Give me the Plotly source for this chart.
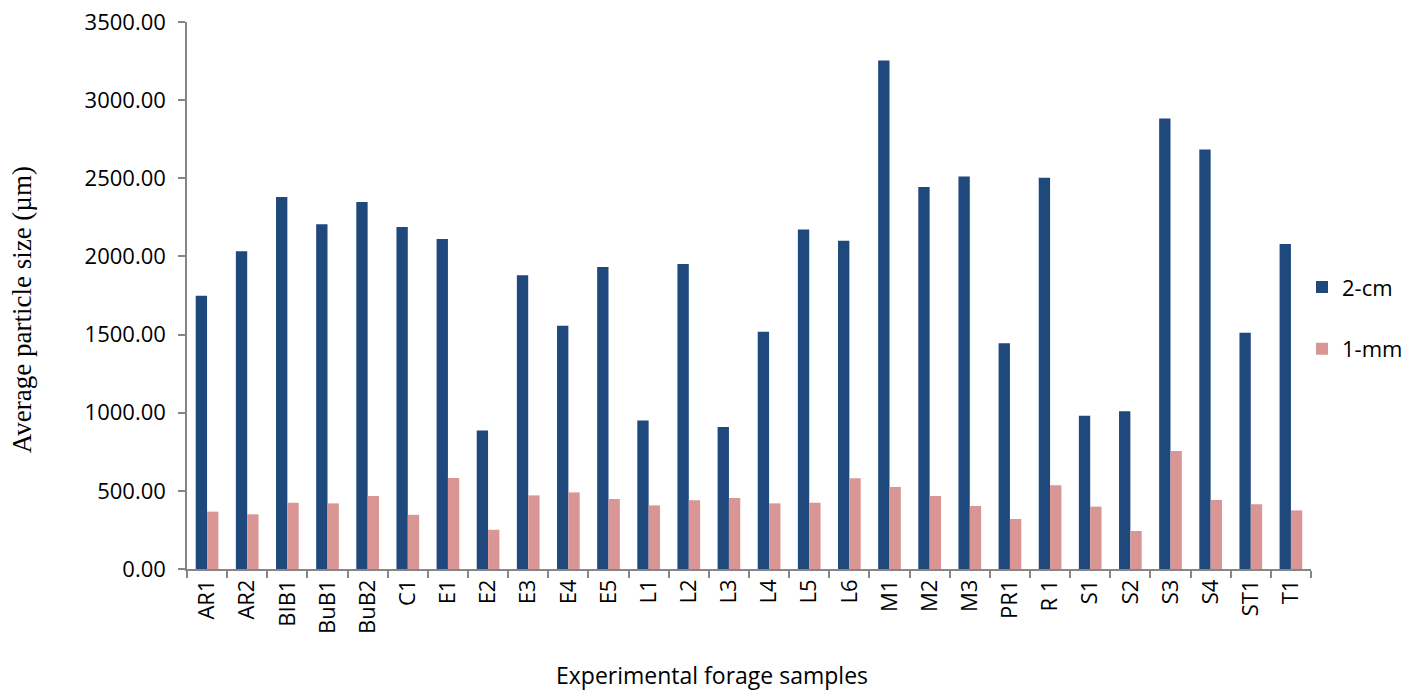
import plotly.graph_objects as go

categories = ["AR1", "AR2", "BIB1", "BuB1", "BuB2", "C1", "E1", "E2", "E3", "E4", "E5",
              "L1", "L2", "L3", "L4", "L5", "L6", "M1", "M2", "M3", "PR1", "R 1",
              "S1", "S2", "S3", "S4", "ST1", "T1"]
values_2cm = [1749, 2033, 2381, 2206, 2349, 2189, 2112, 886, 1879, 1556, 1932,
              950, 1952, 909, 1518, 2172, 2101, 3254, 2445, 2511, 1445, 2503,
              980, 1010, 2883, 2684, 1512, 2080]
values_1mm = [367, 350, 424, 420, 467, 347, 582, 251, 471, 490, 448,
              407, 440, 454, 420, 424, 580, 525, 467, 403, 320, 536,
              399, 243, 755, 442, 414, 375]

W, H = 1405, 690
L, R, T, B = 187, 94, 21.5, 121
pw = W - L - R
ph = H - T - B

sans = "Open Sans"
fig = go.Figure()
fig.add_trace(go.Bar(x=categories, y=values_2cm, name="2-cm", marker_color="#1F497D",
                     marker_line_width=0, legendgroup="a"))
fig.add_trace(go.Bar(x=categories, y=values_1mm, name="1-mm", marker_color="#D99694",
                     marker_line_width=0, legendgroup="b"))

fig.update_layout(
    width=W, height=H,
    margin=dict(l=L, r=R, t=T, b=B, autoexpand=False),
    paper_bgcolor="white", plot_bgcolor="white",
    barmode="group", bargap=0.435, bargroupgap=0,
    font=dict(family=sans, size=22, color="black"),
    legend=dict(x=(1302 - L) / pw, xanchor="left", y=(H - B - 266) / ph, yanchor="top",
                tracegroupgap=30, font=dict(family=sans, size=22), bgcolor="rgba(0,0,0,0)"),
    xaxis=dict(type="category", showline=True, linecolor="#868686", linewidth=1.5,
               ticks="outside", ticklen=7, tickcolor="#868686", tickwidth=1.5,
               tickson="boundaries", tickangle=-90, showgrid=False, automargin=False,
               tickfont=dict(family=sans, size=22)),
    yaxis=dict(range=[0, 3500], dtick=500, tickformat=".2f", showline=True,
               linecolor="#868686", linewidth=1.5, ticks="outside", ticklen=7,
               tickcolor="#868686", tickwidth=1.5, showgrid=False, zeroline=False,
               automargin=False, ticklabelstandoff=8, tickfont=dict(family=sans, size=22)),
    annotations=[
        dict(text="Experimental forage samples", xref="paper", yref="paper",
             x=(712 - L) / pw, y=0, yshift=-106, xanchor="center", yanchor="middle",
             showarrow=False, font=dict(family=sans, size=23)),
        dict(text="Average particle size (µm)", xref="paper", yref="paper",
             x=0, xshift=-(L - 22), y=(H - B - 310) / ph, xanchor="center", yanchor="middle",
             textangle=-90, showarrow=False,
             font=dict(family="Liberation Serif", size=27)),
    ],
)

fig.write_html("out.html", config={"displayModeBar": False},
               post_script="document.body.style.margin='0px';document.body.style.overflow='hidden';")
